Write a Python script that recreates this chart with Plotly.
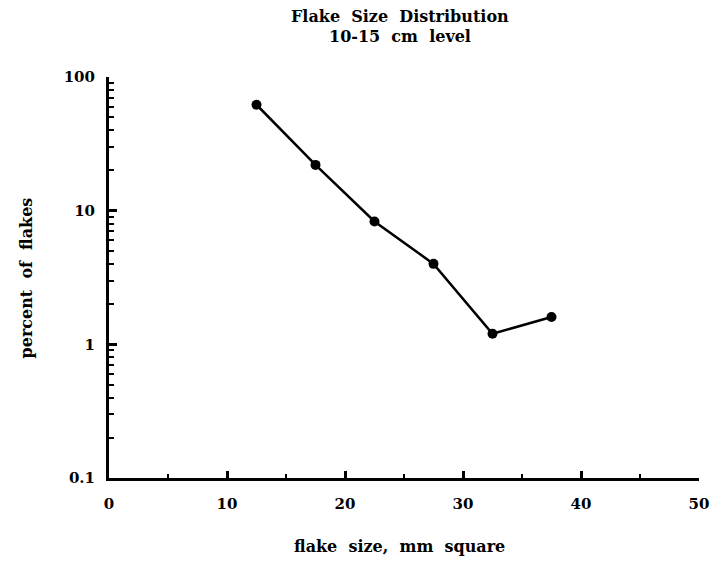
import plotly.graph_objects as go

# Data
flake_size = [12.5, 17.5, 22.5, 27.5, 32.5, 37.5]
percent = [62, 22, 8.3, 4.0, 1.2, 1.6]

x_ticks = [0, 10, 20, 30, 40, 50]
x_minor = [5, 15, 25, 35, 45]
y_ticks = [0.1, 1, 10, 100]
y_ticklabels = ["0.1", "1", "10", "100"]
y_minor = [m * 10.0 ** e for e in (-1, 0, 1) for m in range(2, 10)]

FONT = "DejaVu Serif"

fig = go.Figure()
fig.add_trace(go.Scatter(
    x=flake_size, y=percent, mode="lines+markers",
    line=dict(color="black", width=2.5),
    marker=dict(color="black", size=10),
    showlegend=False,
))

fig.update_layout(
    width=718, height=555,
    margin=dict(l=101, r=27, t=69, b=85),
    paper_bgcolor="white", plot_bgcolor="white",
    font=dict(family=FONT, color="black", size=15),
    xaxis=dict(
        range=[0, 50], showgrid=False, zeroline=False,
        showline=True, linecolor="black", linewidth=3,
        tickvals=x_ticks, ticktext=[f"<b>{v}</b>" for v in x_ticks],
        ticks="inside", ticklen=7, tickwidth=2.5, tickcolor="black",
        tickfont=dict(family=FONT, size=15), ticklabelstandoff=10,
        minor=dict(tickvals=x_minor, ticks="inside", ticklen=4, tickwidth=2, tickcolor="black"),
    ),
    yaxis=dict(
        type="log", range=[-1, 2], showgrid=False, zeroline=False,
        showline=True, linecolor="black", linewidth=3,
        tickvals=y_ticks, ticktext=[f"<b>{t}</b>" for t in y_ticklabels],
        ticks="inside", ticklen=8, tickwidth=2.5, tickcolor="black",
        tickfont=dict(family=FONT, size=15), ticklabelstandoff=8,
        minor=dict(tickvals=y_minor, ticks="inside", ticklen=5, tickwidth=2, tickcolor="black"),
    ),
    annotations=[
        dict(text="<b>Flake  Size  Distribution</b>", x=0.493, y=1.15, xref="paper", yref="paper",
             showarrow=False, xanchor="center", yanchor="middle", font=dict(size=16, family=FONT)),
        dict(text="<b>10-15  cm  level</b>", x=0.493, y=1.10, xref="paper", yref="paper",
             showarrow=False, xanchor="center", yanchor="middle", font=dict(size=16, family=FONT)),
        dict(text="<b>flake  size,  mm  square</b>", x=0.493, y=-0.172, xref="paper", yref="paper",
             showarrow=False, xanchor="center", yanchor="middle", font=dict(size=16, family=FONT)),
        dict(text="<b>percent  of  flakes</b>", x=-0.139, y=0.50, xref="paper", yref="paper",
             showarrow=False, xanchor="center", yanchor="middle", textangle=-90,
             font=dict(size=16, family=FONT)),
    ],
)

fig.write_html("out.html")
